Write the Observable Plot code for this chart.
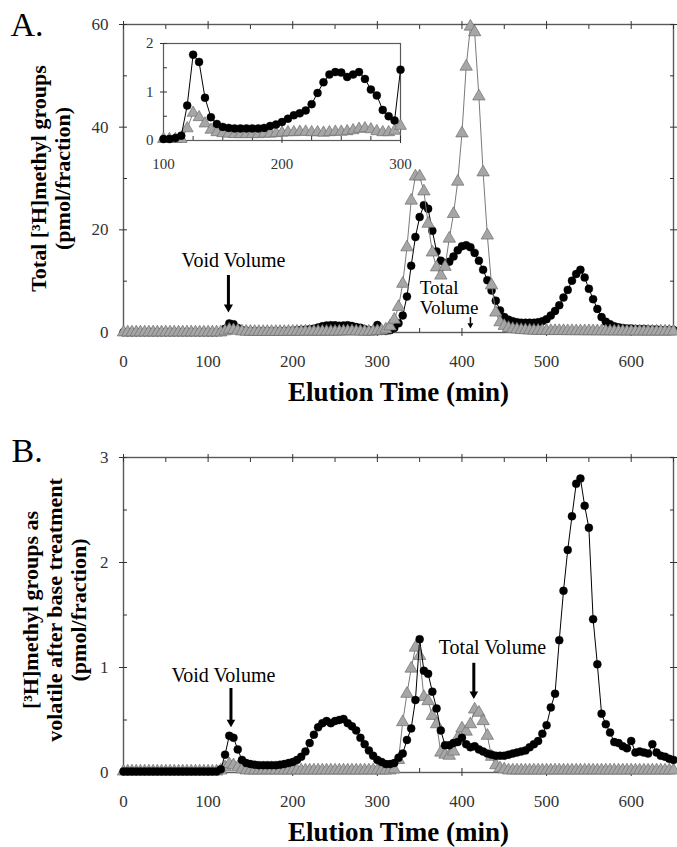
<!DOCTYPE html>
<html>
<head>
<meta charset="utf-8">
<script src="https://cdn.jsdelivr.net/npm/d3@7"></script>
<script src="https://cdn.jsdelivr.net/npm/@observablehq/plot@0.6"></script>
<style>
  html, body { margin: 0; padding: 0; background: #fff; }
  #wrap { position: relative; width: 677px; height: 847px; overflow: hidden; background: #fff; }
  #wrap svg { position: absolute; }
</style>
</head>
<body>
<div id="wrap"></div>
<script>
// ---------- DATA ----------
// fraction elution times (min)
const time = [
  0,5,10,15,20,25,30,35,40,45, 50,55,60,65,70,75,80,85,90,95,
  100,105,110,115,120,125,130,135,140,145, 150,155,160,165,170,175,180,185,190,195,
  200,205,210,215,220,225,230,235,240,245, 250,255,260,265,270,275,280,285,290,295,
  300,305,310,315,320,325,330,335,340,345, 350,355,360,365,370,375,380,385,390,395,
  400,405,410,415,420,425,430,435,440,445, 450,455,460,465,470,475,480,485,490,495,
  500,505,510,515,520,525,530,535,540,545, 550,555,560,565,570,575,580,585,590,595,
  600,605,610,615,620,625,630,635,640,645, 650
];
// Panel A: total [3H]methyl groups (pmol/fraction)
const aCircles = [
  0.05,0.05,0.05,0.05,0.05,0.05,0.05,0.05,0.05,0.05, 0.05,0.05,0.05,0.05,0.05,0.05,0.05,0.05,0.05,0.05,
  0.03,0.03,0.05,0.1,0.72,1.77,1.62,0.88,0.48,0.34, 0.28,0.26,0.25,0.25,0.25,0.25,0.25,0.26,0.3,0.33,
  0.38,0.45,0.52,0.56,0.62,0.75,0.98,1.2,1.36,1.41, 1.4,1.31,1.36,1.41,1.27,1.05,0.93,0.63,0.5,0.41,
  1.46,0.3,0.3,0.45,0.9,1.8,3.3,7.0,13.0,18.6, 22.5,24.8,24.1,19.8,15.8,14.0,13.5,13.8,14.8,16.0,
  16.8,17.0,16.6,15.5,14.0,12.2,10.2,8.2,6.2,4.3, 3.0,2.5,2.2,2.0,1.9,1.9,1.9,1.9,2.0,2.2,
  2.6,3.3,4.2,5.3,6.8,8.3,10.1,11.4,12.2,10.7, 8.5,6.5,4.6,3.0,2.1,1.6,1.2,1.0,0.9,0.8,
  0.8,0.7,0.7,0.7,0.6,0.6,0.6,0.5,0.5,0.5, 0.5
];
const aTriangles = [
  0.03,0.03,0.03,0.03,0.03,0.03,0.03,0.03,0.03,0.03, 0.03,0.03,0.03,0.03,0.03,0.03,0.03,0.03,0.03,0.03,
  0.03,0.03,0.03,0.03,0.25,0.57,0.48,0.35,0.22,0.17, 0.15,0.14,0.13,0.13,0.13,0.13,0.13,0.14,0.14,0.15,
  0.16,0.17,0.17,0.18,0.18,0.17,0.17,0.16,0.17,0.18, 0.18,0.19,0.21,0.24,0.25,0.23,0.19,0.17,0.17,0.2,
  0.3,0.35,0.6,1.2,2.5,5.0,9.5,16.6,25.7,30.4, 30.4,27.5,21.2,15.6,12.7,11.1,12.8,18.3,23.1,29.4,
  38.8,51.8,59.6,58.5,46.0,31.2,18.9,9.2,3.9,2.0, 1.3,0.9,0.7,0.6,0.5,0.45,0.4,0.38,0.35,0.33,
  0.32,0.3,0.3,0.3,0.3,0.28,0.28,0.28,0.27,0.27, 0.26,0.26,0.25,0.25,0.24,0.24,0.23,0.23,0.22,0.22,
  0.22,0.21,0.21,0.21,0.2,0.2,0.2,0.2,0.2,0.2, 0.2
];
// Panel B: [3H]methyl groups volatile after base treatment (pmol/fraction)
const bCircles = [
  0.01,0.01,0.01,0.01,0.01,0.01,0.01,0.01,0.01,0.01, 0.01,0.01,0.01,0.01,0.01,0.01,0.01,0.01,0.01,0.01,
  0.01,0.01,0.01,0.03,0.17,0.35,0.33,0.22,0.12,0.09, 0.08,0.075,0.07,0.07,0.07,0.07,0.07,0.075,0.08,0.09,
  0.1,0.12,0.15,0.2,0.28,0.36,0.43,0.47,0.49,0.47, 0.49,0.5,0.51,0.47,0.44,0.4,0.33,0.27,0.21,0.16,
  0.12,0.1,0.08,0.08,0.09,0.14,0.18,0.31,0.42,0.69, 1.27,0.97,0.94,0.77,0.61,0.4,0.26,0.26,0.28,0.29,
  0.33,0.27,0.24,0.25,0.22,0.2,0.18,0.17,0.16,0.16, 0.16,0.17,0.18,0.19,0.2,0.21,0.24,0.27,0.3,0.37,
  0.45,0.62,0.75,1.26,1.73,2.12,2.44,2.75,2.8,2.54, 2.33,1.46,1.03,0.56,0.46,0.38,0.29,0.28,0.25,0.23,
  0.3,0.19,0.2,0.19,0.18,0.27,0.19,0.16,0.15,0.13, 0.12
];
const bTriangles = [
  0.01,0.01,0.01,0.01,0.01,0.01,0.01,0.01,0.01,0.01, 0.01,0.01,0.01,0.01,0.01,0.01,0.01,0.01,0.01,0.01,
  0.01,0.01,0.01,0.02,0.05,0.08,0.07,0.05,0.03,0.02, 0.02,0.02,0.02,0.02,0.02,0.02,0.02,0.02,0.02,0.02,
  0.02,0.02,0.02,0.02,0.02,0.02,0.02,0.02,0.02,0.02, 0.02,0.02,0.02,0.02,0.02,0.02,0.02,0.02,0.02,0.02,
  0.02,0.02,0.02,0.02,0.03,0.12,0.48,0.75,0.99,1.19, 1.11,0.72,0.68,0.54,0.46,0.19,0.17,0.16,0.2,0.33,
  0.42,0.39,0.46,0.6,0.57,0.49,0.35,0.15,0.07,0.04, 0.03,0.02,0.02,0.02,0.02,0.02,0.02,0.02,0.02,0.02,
  0.02,0.02,0.02,0.02,0.02,0.02,0.02,0.02,0.02,0.02, 0.02,0.02,0.02,0.02,0.02,0.02,0.02,0.02,0.02,0.02,
  0.02,0.02,0.02,0.02,0.02,0.02,0.02,0.02,0.02,0.02, 0.02
];

// tick values
const xMajor = [0,100,200,300,400,500,600];
const xMinor = [50,150,250,350,450,550,650];
const aYMajor = [0,20,40,60];
const aYMinor = [10,30,50];
const bYMajor = [0,1,2,3];
const bYMinor = [0.5,1.5,2.5];
const insetXMajor = [100,200,300];
const insetXMinor = [125,150,175,225,250,275];
const insetYMajor = [0,1,2];
const insetYMinor = [0.5,1.5];

// annotations (data coordinates)
const voidA  = [{label: "Void Volume", t: 124, textT: 130, textV: 14.0, top: 11.1, tip: 3.9}];
const totalA = [{label: "Total\nVolume", t: 410, textT: 350, textV: 6.75, top: 2.9, tip: 0.8}];
const voidB  = [{label: "Void Volume", t: 127, textT: 118, textV: 0.92, top: 0.8, tip: 0.43}];
const totalB = [{label: "Total Volume", t: 414, textT: 436, textV: 1.19, top: 1.04, tip: 0.70}];

// ---------- STYLE ----------
const SERIF = "'Liberation Serif','Times New Roman',Times,serif";
const FRAME = "#5a5a5a";
const TICKC = "#333";
const TRI_FILL = "#a6a6a6", TRI_STROKE = "#6e6e6e", TRI_LINE = "#7a7a7a";

const dataA = time.map((t, i) => ({t, c: aCircles[i], g: aTriangles[i]}));
const dataB = time.map((t, i) => ({t, c: bCircles[i], g: bTriangles[i]}));
const dataInset = dataA.filter(d => d.t >= 100 && d.t <= 300);

const blank = () => "";

function boxAxes({xMaj, xMin, yMaj, yMin, fontSize, xPad, yPad, outLen = 4, inLen = 4, sides = true}) {
  const xAll = xMaj.concat(xMin), yAll = yMaj.concat(yMin);
  const m = [
    Plot.axisX({anchor: "bottom", ticks: xMaj, tickSize: outLen, tickPadding: xPad, tickFormat: "d", fontSize, color: TICKC, label: null}),
    Plot.axisX({anchor: "bottom", ticks: xAll, tickSize: inLen, dy: -inLen, tickFormat: blank, color: TICKC, label: null}),
    Plot.axisY({anchor: "left", ticks: yMaj, tickSize: outLen, tickPadding: yPad, tickFormat: "d", fontSize, color: TICKC, label: null}),
    Plot.axisY({anchor: "left", ticks: yAll, tickSize: inLen, dx: inLen, tickFormat: blank, color: TICKC, label: null})
  ];
  if (sides) {
    m.push(
      Plot.axisX({anchor: "top", ticks: xMaj, tickSize: outLen, tickFormat: blank, color: TICKC, label: null}),
      Plot.axisX({anchor: "top", ticks: xAll, tickSize: inLen, dy: inLen, tickFormat: blank, color: TICKC, label: null}),
      Plot.axisY({anchor: "right", ticks: yMaj, tickSize: outLen, tickFormat: blank, color: TICKC, label: null}),
      Plot.axisY({anchor: "right", ticks: yAll, tickSize: inLen, dx: -inLen, tickFormat: blank, color: TICKC, label: null})
    );
  }
  return m;
}

function arrowMarks(ann, {w, r, tipOff}) {
  return [
    Plot.ruleX(ann, {x: "t", y1: "top", y2: "tip", stroke: "black", strokeWidth: w, insetBottom: tipOff + 1}),
    Plot.dot(ann, {x: "t", y: "tip", symbol: "triangle", rotate: 180, r, dy: -tipOff, fill: "black", stroke: "none"})
  ];
}

function seriesMarks(data, order, rC, rT) {
  const circ = [
    Plot.line(data, {x: "t", y: "c", stroke: "black", strokeWidth: 1}),
    Plot.dot(data, {x: "t", y: "c", r: rC, fill: "black", stroke: "black", strokeWidth: 0.4})
  ];
  const tri = [
    Plot.line(data, {x: "t", y: "g", stroke: TRI_LINE, strokeWidth: 1}),
    Plot.dot(data, {x: "t", y: "g", symbol: "triangle", r: rT, fill: TRI_FILL, stroke: TRI_STROKE, strokeWidth: 0.7})
  ];
  return order === "circlesFirst" ? circ.concat(tri) : tri.concat(circ);
}

// ---------- PANEL A ----------
const plotA = Plot.plot({
  width: 677, height: 410,
  marginLeft: 123, marginRight: 4, marginTop: 24, marginBottom: 78,
  style: {fontFamily: SERIF, background: "transparent", overflow: "visible"},
  x: {domain: [0, 650]},
  y: {domain: [0, 60]},
  marks: [
    Plot.frame({stroke: FRAME, strokeWidth: 1.4}),
    ...boxAxes({xMaj: xMajor, xMin: xMinor, yMaj: aYMajor, yMin: aYMinor, fontSize: 17, xPad: 18, yPad: 11}),
    ...seriesMarks(dataA, "circlesFirst", 4, 4.6),
    Plot.text(voidA, {x: "textT", y: "textV", text: "label", fontSize: 20, fill: "black", textAnchor: "middle", lineAnchor: "middle"}),
    ...arrowMarks(voidA, {w: 3, r: 3.4, tipOff: 5.3}),
    Plot.text(totalA, {x: "textT", y: "textV", text: "label", fontSize: 19, fill: "black", textAnchor: "start", lineAnchor: "middle", lineHeight: 1.02}),
    ...arrowMarks(totalA, {w: 1.5, r: 2.2, tipOff: 3.4}),
    Plot.text(["Total [³H]methyl groups\n(pmol/fraction)"], {text: d => d, frameAnchor: "left", rotate: -90, dx: -73, fontSize: 22, fontWeight: "bold", fill: "black", textAnchor: "middle", lineAnchor: "middle", lineHeight: 1.09}),
    Plot.text(["Elution Time (min)"], {text: d => d, frameAnchor: "bottom", dy: 60, fontSize: 27, fontWeight: "bold", fill: "black", lineAnchor: "middle"}),
    Plot.text(["A."], {text: d => d, frameAnchor: "top-left", dx: -113, dy: 1, fontSize: 34, fill: "black", textAnchor: "start", lineAnchor: "middle"})
  ]
});
plotA.style.left = "0px"; plotA.style.top = "0px";

// ---------- INSET ----------
const plotInset = Plot.plot({
  width: 273, height: 133,
  marginLeft: 30, marginRight: 6, marginTop: 6, marginBottom: 30,
  style: {fontFamily: SERIF, background: "transparent", overflow: "visible"},
  x: {domain: [100, 300]},
  y: {domain: [0, 2]},
  marks: [
    Plot.frame({stroke: FRAME, strokeWidth: 1.2}),
    ...boxAxes({xMaj: insetXMajor, xMin: insetXMinor, yMaj: insetYMajor, yMin: insetYMinor, fontSize: 15, xPad: 15, yPad: 7, outLen: 3, inLen: 4, sides: false}),
    ...seriesMarks(dataInset, "trianglesFirst", 4, 4.4)
  ]
});
plotInset.style.left = "133px"; plotInset.style.top = "37px";

// ---------- PANEL B ----------
const plotB = Plot.plot({
  width: 677, height: 437,
  marginLeft: 123, marginRight: 4, marginTop: 47, marginBottom: 75,
  style: {fontFamily: SERIF, background: "transparent", overflow: "visible"},
  x: {domain: [0, 650]},
  y: {domain: [0, 3]},
  marks: [
    Plot.frame({stroke: FRAME, strokeWidth: 1.4}),
    ...boxAxes({xMaj: xMajor, xMin: xMinor, yMaj: bYMajor, yMin: bYMinor, fontSize: 17, xPad: 18, yPad: 11}),
    ...seriesMarks(dataB, "trianglesFirst", 4, 4.6),
    Plot.text(voidB, {x: "textT", y: "textV", text: "label", fontSize: 20, fill: "black", textAnchor: "middle", lineAnchor: "middle"}),
    ...arrowMarks(voidB, {w: 3, r: 3.2, tipOff: 5.0}),
    Plot.text(totalB, {x: "textT", y: "textV", text: "label", fontSize: 20, fill: "black", textAnchor: "middle", lineAnchor: "middle"}),
    ...arrowMarks(totalB, {w: 3, r: 3.2, tipOff: 5.0}),
    Plot.text(["[³H]methyl groups as\nvolatile after base treatment\n(pmol/fraction)"], {text: d => d, frameAnchor: "left", rotate: -90, dx: -69, dy: -5, fontSize: 22, fontWeight: "bold", fill: "black", textAnchor: "middle", lineAnchor: "middle", lineHeight: 1.09}),
    Plot.text(["Elution Time (min)"], {text: d => d, frameAnchor: "bottom", dy: 60, fontSize: 27, fontWeight: "bold", fill: "black", lineAnchor: "middle"}),
    Plot.text(["B."], {text: d => d, frameAnchor: "top-left", dx: -112, dy: -6, fontSize: 34, fill: "black", textAnchor: "start", lineAnchor: "middle"})
  ]
});
plotB.style.left = "0px"; plotB.style.top = "410px";

const wrap = document.getElementById("wrap");
wrap.appendChild(plotA);
wrap.appendChild(plotB);
wrap.appendChild(plotInset);
</script>
</body>
</html>
